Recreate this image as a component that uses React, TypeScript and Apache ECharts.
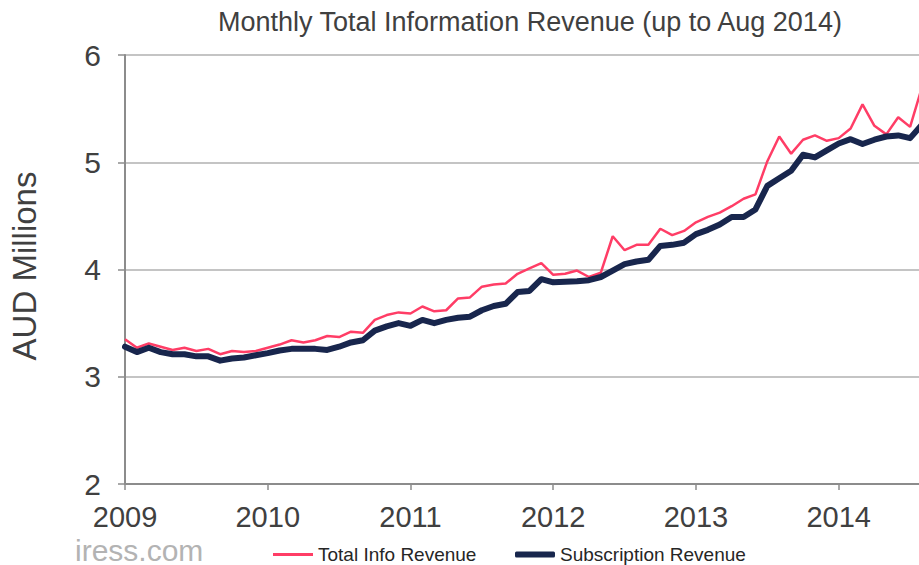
import React, { useEffect, useRef } from "react";
import * as echarts from "echarts";

const startYear = 2009;
const monthCount = 68; // Jan 2009 .. Aug 2014
const yearTickLabels = ["2009", "2010", "2011", "2012", "2013", "2014"];
const yTicks = [2, 3, 4, 5, 6];
const seriesNames = ["Total Info Revenue", "Subscription Revenue"];

const totalInfoRevenue = [
  3.35, 3.27, 3.31, 3.28, 3.25, 3.27, 3.24, 3.26, 3.21, 3.24, 3.23, 3.24,
  3.27, 3.3, 3.34, 3.32, 3.34, 3.38, 3.37, 3.42, 3.41, 3.53, 3.575, 3.6,
  3.59, 3.655, 3.61, 3.62, 3.73, 3.74, 3.84, 3.86, 3.87, 3.96, 4.01, 4.06,
  3.95, 3.96, 3.99, 3.93, 3.97, 4.31, 4.18, 4.23, 4.23, 4.38, 4.32, 4.36,
  4.44, 4.49, 4.53, 4.59, 4.66, 4.7, 5.01, 5.24, 5.08, 5.21, 5.25, 5.2,
  5.225, 5.315, 5.54, 5.34, 5.26, 5.42, 5.33, 5.7,
];

const subscriptionRevenue = [
  3.28, 3.23, 3.27, 3.23, 3.21, 3.21, 3.19, 3.19, 3.15, 3.17, 3.18, 3.2,
  3.22, 3.245, 3.26, 3.26, 3.26, 3.25, 3.28, 3.32, 3.34, 3.43, 3.47, 3.5,
  3.475, 3.53, 3.5, 3.53, 3.55, 3.56, 3.62, 3.66, 3.68, 3.79, 3.8, 3.91,
  3.88, 3.885, 3.89, 3.9, 3.93, 3.99, 4.05, 4.075, 4.09, 4.22, 4.23, 4.25,
  4.33, 4.37, 4.42, 4.49, 4.49, 4.56, 4.78, 4.85, 4.92, 5.07, 5.045, 5.11,
  5.175, 5.215, 5.17, 5.21, 5.24, 5.25, 5.225, 5.35,
];

const months: string[] = [];
for (let i = 0; i < monthCount; i++) {
  const y = startYear + Math.floor(i / 12);
  const m = (i % 12) + 1;
  months.push(`${y}-${m < 10 ? "0" + m : m}`);
}

const FONT = "'Liberation Sans', Arial, Helvetica, sans-serif";
const TEXT = "#404040";
const PINK = "#ff3d66";
const NAVY = "#18264d";

export default function App() {
  const ref = useRef<HTMLDivElement>(null);
  useEffect(() => {
    if (!ref.current) return;
    const chart = echarts.init(ref.current, undefined, { renderer: "svg" });
    const legendText = { fontFamily: FONT, fontSize: 19, color: "#262626" };
    chart.setOption({
      animation: false,
      backgroundColor: "#ffffff",
      textStyle: { fontFamily: FONT },
      title: {
        text: "Monthly Total Information Revenue (up to Aug 2014)",
        left: 218,
        top: 8,
        padding: 0,
        textStyle: { fontFamily: FONT, fontSize: 27, fontWeight: "normal", color: TEXT },
      },
      grid: { left: 125, right: 0, top: 55, bottom: 81, containLabel: false },
      legend: [
        {
          left: 273,
          top: 545,
          padding: 0,
          itemWidth: 40,
          itemHeight: 3,
          icon: "rect",
          textStyle: legendText,
          data: [seriesNames[0]],
        },
        {
          left: 515,
          top: 545,
          padding: 0,
          itemWidth: 40,
          itemHeight: 6,
          icon: "roundRect",
          textStyle: legendText,
          data: [seriesNames[1]],
        },
      ],
      xAxis: {
        type: "category",
        data: months,
        boundaryGap: false,
        axisLine: { show: true, lineStyle: { color: "#8c8c8c", width: 2 } },
        axisTick: {
          show: true,
          length: 6,
          interval: (idx: number) => idx % 12 === 0,
          lineStyle: { color: "#8c8c8c", width: 1.5 },
        },
        axisLabel: {
          interval: (idx: number) => idx % 12 === 0,
          formatter: (v: string) => yearTickLabels[Number(v.slice(0, 4)) - startYear],
          margin: 21,
          fontSize: 29,
          lineHeight: 24,
          color: TEXT,
          fontFamily: FONT,
        },
        splitLine: { show: false },
      },
      yAxis: {
        type: "value",
        min: yTicks[0],
        max: yTicks[yTicks.length - 1],
        interval: 1,
        axisLine: { show: true, lineStyle: { color: "#8c8c8c", width: 2 } },
        axisTick: { show: true, length: 7, lineStyle: { color: "#8c8c8c", width: 1.5 } },
        axisLabel: { margin: 24, fontSize: 30, color: TEXT, fontFamily: FONT },
        splitLine: { show: true, lineStyle: { color: "#b0b0b0", width: 1.5 } },
      },
      graphic: [
        {
          type: "text",
          x: 24,
          y: 266,
          rotation: Math.PI / 2,
          style: {
            text: "AUD Millions",
            fontFamily: FONT,
            fontSize: 33,
            fill: TEXT,
            align: "center",
            verticalAlign: "middle",
          },
        },
        {
          type: "text",
          x: 75,
          y: 550,
          style: {
            text: "iress.com",
            fontFamily: FONT,
            fontSize: 30,
            lineHeight: 24,
            fill: "#b3b3b3",
            align: "left",
            verticalAlign: "middle",
          },
        },
      ],
      series: [
        {
          name: seriesNames[0],
          type: "line",
          data: totalInfoRevenue,
          symbol: "none",
          color: PINK,
          lineStyle: { color: PINK, width: 2.5 },
        },
        {
          name: seriesNames[1],
          type: "line",
          data: subscriptionRevenue,
          symbol: "none",
          color: NAVY,
          lineStyle: { color: NAVY, width: 6, cap: "round", join: "round" },
        },
      ],
    });
    return () => chart.dispose();
  }, []);
  return (
    <div style={{ position: "fixed", left: 0, top: 0, width: 919, height: 565, overflow: "hidden", background: "#fff" }}>
      <div ref={ref} style={{ width: 922, height: 565 }} />
    </div>
  );
}
